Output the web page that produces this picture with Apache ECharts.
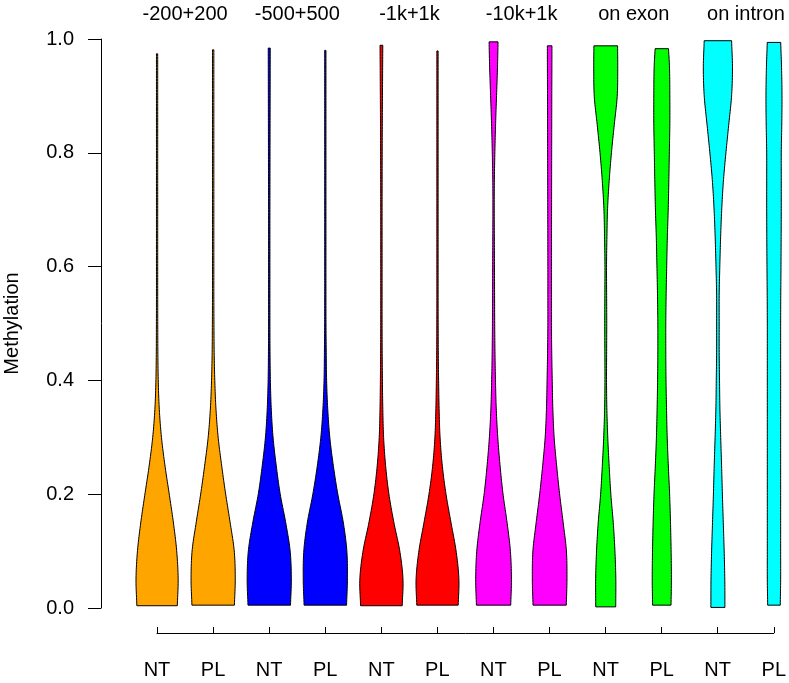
<!DOCTYPE html>
<html><head><meta charset="utf-8">
<script src="https://cdn.jsdelivr.net/npm/echarts@6/dist/echarts.min.js"></script>
<style>html,body{margin:0;padding:0;background:#fff}#c{width:789px;height:683px}</style>
</head><body><div id="c"></div>
<script>
// ---- data ----
const groupNames = ['-200+200', '-500+500', '-1k+1k', '-10k+1k', 'on exon', 'on intron'];
const tickLabels = ['NT', 'PL', 'NT', 'PL', 'NT', 'PL', 'NT', 'PL', 'NT', 'PL', 'NT', 'PL'];
const yTicks = [0.0, 0.2, 0.4, 0.6, 0.8, 1.0];
// density levels (methylation values) at which half-widths were read
const levels = [0, 0.05, 0.1, 0.15, 0.2, 0.25, 0.3, 0.35, 0.4, 0.45, 0.5, 0.55, 0.6, 0.65, 0.7, 0.75, 0.8, 0.85, 0.9, 0.95, 1.0];
// half-widths (percent of one slot) per violin at each level
const orangeNT  = [36.0, 37.6, 35.0, 29.1, 21.7, 14.1, 7.8, 3.9, 2.1, 1.4, 1.2, 1.1, 1.1, 1.1, 1.1, 1.1, 1.1, 1.1, 1.1, 1.1, 1.1];
const orangePL  = [37.8, 39.4, 37.6, 30.3, 22.3, 15.2, 8.9, 5.0, 2.9, 1.8, 1.4, 1.2, 1.2, 1.2, 1.2, 1.2, 1.2, 1.2, 1.2, 1.2, 1.2];
const blueNT    = [37.8, 39.4, 37.3, 29.4, 19.6, 12.5, 6.8, 3.6, 2.0, 1.4, 1.2, 1.2, 1.2, 1.2, 1.2, 1.3, 1.4, 1.5, 1.6, 1.7, 1.8];
const bluePL    = [37.8, 39.4, 38.4, 32.1, 22.3, 14.3, 8.0, 4.3, 2.3, 1.6, 1.2, 1.1, 1.1, 1.1, 1.1, 1.1, 1.1, 1.1, 1.1, 1.1, 1.1];
const redNT     = [37.0, 38.5, 32.8, 22.3, 13.4, 7.5, 3.9, 2.5, 1.8, 1.4, 1.2, 1.2, 1.2, 1.2, 1.2, 1.3, 1.4, 1.6, 1.9, 2.2, 2.5];
const redPL     = [36.8, 38.2, 33.2, 24.1, 15.2, 8.6, 4.6, 2.9, 2.0, 1.4, 1.2, 1.1, 1.1, 1.1, 1.1, 1.1, 1.1, 1.1, 1.1, 1.1, 1.1];
const magentaNT = [30.5, 31.9, 30.0, 24.1, 16.9, 11.6, 7.5, 4.8, 3.4, 2.5, 2.0, 1.8, 1.6, 1.4, 1.2, 1.4, 2.3, 3.6, 5.3, 7.0, 8.0];
const magentaPL = [29.6, 30.9, 29.9, 24.1, 17.8, 12.5, 8.0, 5.7, 4.6, 3.7, 3.2, 3.2, 3.2, 3.3, 3.4, 3.5, 3.6, 3.7, 3.8, 4.0, 4.1];
const greenNT   = [17.8, 18.0, 16.4, 13.4, 9.1, 6.1, 3.6, 2.0, 1.4, 1.6, 1.8, 1.6, 1.4, 2.1, 3.2, 6.1, 10.2, 15.3, 20.5, 21.4, 21.0];
const greenPL   = [16.4, 17.1, 16.6, 15.5, 13.9, 11.6, 9.6, 8.4, 7.5, 7.1, 7.1, 7.7, 8.7, 9.8, 11.4, 12.5, 13.4, 14.3, 14.3, 13.7, 11.2];
const cyanNT    = [12.5, 12.3, 11.2, 9.6, 8.0, 6.6, 5.0, 3.6, 2.9, 2.3, 2.3, 2.3, 3.4, 4.8, 6.8, 9.8, 14.3, 19.4, 24.4, 26.0, 24.4];
const cyanPL    = [11.2, 11.9, 11.9, 11.9, 11.9, 11.9, 11.9, 11.9, 11.9, 11.9, 11.9, 12.1, 12.5, 12.8, 13.0, 13.0, 13.0, 13.9, 14.3, 13.5, 11.9];
const violinMin = [0.004, 0.005, 0.005, 0.005, 0.004, 0.005, 0.005, 0.005, 0.002, 0.005, 0.001, 0.005];
const violinMax = [0.974, 0.981, 0.984, 0.980, 0.989, 0.979, 0.995, 0.988, 0.988, 0.983, 0.997, 0.994];

const widths = [orangeNT, orangePL, blueNT, bluePL, redNT, redPL, magentaNT, magentaPL, greenNT, greenPL, cyanNT, cyanPL];
const groupColors = ['#FFA500', '#0000FF', '#FF0000', '#FF00FF', '#00FF00', '#00FFFF'];
const FONT = '"Liberation Sans", Arial, Helvetica, sans-serif';

function widthAt(arr, y) {
  const n = levels.length;
  const h = levels[1] - levels[0];
  let k = Math.floor((y - levels[0]) / h);
  k = Math.max(0, Math.min(n - 2, k));
  const t = (y - levels[k]) / h;
  const p0 = arr[Math.max(k - 1, 0)], p1 = arr[k], p2 = arr[k + 1], p3 = arr[Math.min(k + 2, n - 1)];
  const t2 = t * t, t3 = t2 * t;
  const v = 0.5 * (2 * p1 + (-p0 + p2) * t + (2 * p0 - 5 * p1 + 4 * p2 - p3) * t2 + (-p0 + 3 * p1 - 3 * p2 + p3) * t3);
  return Math.max(v, 0.8);
}

const chart = echarts.init(document.getElementById('c'), null, { renderer: 'canvas' });
const option = {
  animation: false,
  grid: [
    { left: 101, right: 1, top: 39, bottom: 75 },
    { left: 157, right: 15, top: 623, height: 10 }
  ],
  xAxis: [
    { gridIndex: 0, type: 'value', min: 0, max: 12.25, show: false },
    {
      gridIndex: 1, type: 'value', min: 1, max: 12, interval: 1,
      axisLine: { show: true, lineStyle: { color: '#000', width: 1 } },
      axisTick: { show: true, inside: true, length: 6, lineStyle: { color: '#000', width: 1 } },
      axisLabel: { margin: 27, fontSize: 20, color: '#000', fontFamily: FONT,
        showMinLabel: true, showMaxLabel: true,
        formatter: v => tickLabels[Math.round(v) - 1] || '' },
      splitLine: { show: false }
    }
  ],
  yAxis: [
    {
      gridIndex: 0, type: 'value', min: 0, max: 1, interval: 0.2,
      axisLine: { show: true, lineStyle: { color: '#000', width: 1 } },
      axisTick: { show: true, length: 13, lineStyle: { color: '#000', width: 1 } },
      axisLabel: { margin: 27, fontSize: 20, color: '#000', fontFamily: FONT,
        formatter: v => v.toFixed(1) },
      splitLine: { show: false }
    },
    { gridIndex: 1, type: 'value', min: 0, max: 1, show: false }
  ],
  series: [
    {
      type: 'custom', xAxisIndex: 0, yAxisIndex: 0,
      data: tickLabels.map((_, i) => [i + 1, 0]),
      renderItem: function (params, api) {
        const i = params.dataIndex;
        const x = api.value(0);
        const arr = widths[i];
        const lo = violinMin[i], hi = violinMax[i];
        const N = 200;
        const left = [], right = [];
        for (let s = 0; s <= N; s++) {
          const y = lo + (hi - lo) * s / N;
          const w = widthAt(arr, y) / 100;
          left.push(api.coord([x - w, y]));
          right.push(api.coord([x + w, y]));
        }
        const pts = left.concat(right.reverse());
        return { type: 'polygon', shape: { points: pts },
          style: { fill: groupColors[Math.floor(i / 2)], stroke: '#000', lineWidth: 1 } };
      }
    },
    {
      type: 'custom', xAxisIndex: 0, yAxisIndex: 0,
      data: groupNames.map((_, g) => [2 * g + 1.5, 1]),
      renderItem: function (params, api) {
        const p = api.coord([api.value(0), api.value(1)]);
        return { type: 'text', x: p[0], y: p[1] - 25,
          style: { text: groupNames[params.dataIndex], fill: '#000', fontSize: 20, fontFamily: FONT,
            align: 'center', verticalAlign: 'middle' } };
      }
    },
    {
      type: 'custom', xAxisIndex: 0, yAxisIndex: 0,
      data: [[0, 0.5]],
      renderItem: function (params, api) {
        const p = api.coord([api.value(0), api.value(1)]);
        return { type: 'text', x: p[0] - 89, y: p[1], rotation: Math.PI / 2,
          style: { text: 'Methylation', fill: '#000', fontSize: 20, fontFamily: FONT,
            align: 'center', verticalAlign: 'middle' } };
      }
    },
    { type: 'line', xAxisIndex: 1, yAxisIndex: 1, data: [] }
  ]
};
chart.setOption(option);
</script>
</body></html>
